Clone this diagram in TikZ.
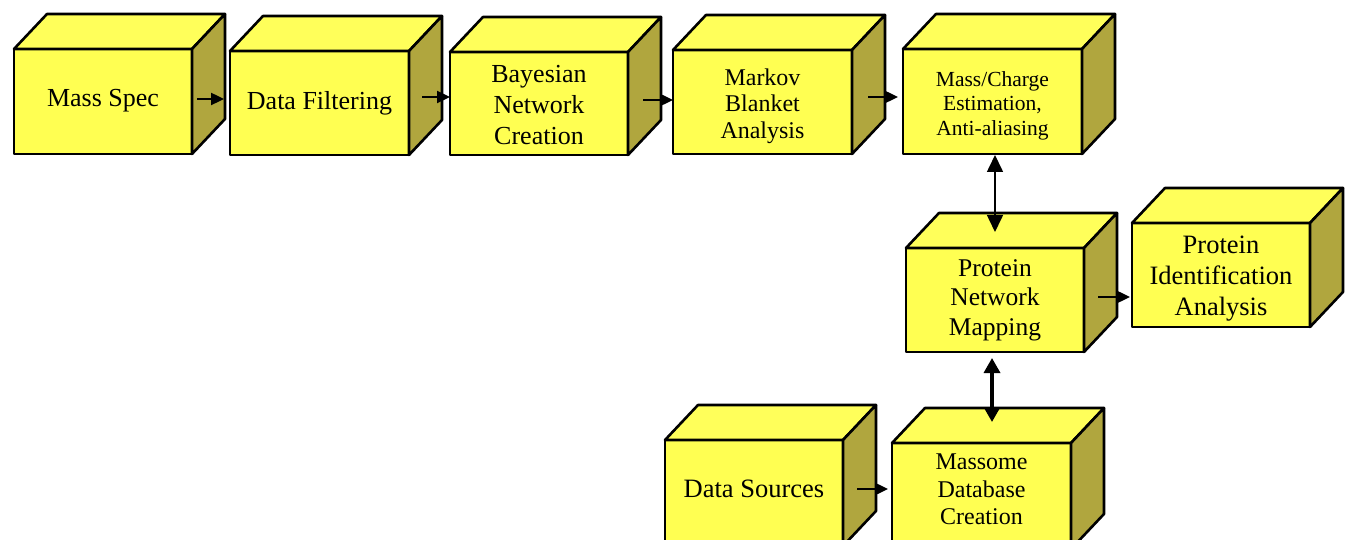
\documentclass[tikz,border=0pt]{standalone}
\usepackage{fontspec}
\setmainfont{Liberation Serif}
\usetikzlibrary{calc,arrows.meta}

\definecolor{facefront}{RGB}{255,255,82}
\definecolor{facetop}{RGB}{255,255,90}
\definecolor{faceside}{RGB}{176,166,62}

% block label moved up by #1 while the block still centres its natural size
\newcommand\blocktext[2]{\raisebox{#1}[\height][\depth]{\begin{tabular}{@{}c@{}}#2\end{tabular}}}

\tikzset{
  frontface/.style={draw=black, line width=2.6pt, fill=facefront, inner sep=0pt,
    outer sep=0pt, anchor=north west, align=center, line join=round},
  topface/.style={draw=black, line width=2.6pt, fill=facetop, line join=round},
  sideface/.style={draw=black, line width=2.6pt, fill=faceside, line join=round},
  flow/.style={line width=2.4pt, -{Triangle[length=13pt,width=12pt]}},
  linkthin/.style={line width=1.6pt, {Triangle[length=17pt,width=16pt]}-{Triangle[length=17pt,width=16pt]}},
  linkthick/.style={line width=3.4pt, {Triangle[length=15pt,width=16pt]}-{Triangle[length=15pt,width=16pt]}},
  big/.style={font=\fontsize{26}{30}\selectfont},
}

\begin{document}
\begin{tikzpicture}[x=1pt,y=-1pt]
  \useasboundingbox (0,0) rectangle (1353,540);

  % front faces of the blocks (top-left corner, width, height)
  \node[frontface, big, minimum width=178pt, minimum height=105pt] (ms) at (14,49) {\blocktext{1pt}{Mass Spec}};
  \node[frontface, big, minimum width=179pt, minimum height=104pt] (df) at (230,51) {Data Filtering};
  \node[frontface, font=\fontsize{26}{31}\selectfont, minimum width=178pt, minimum height=103pt] (by) at (450,52) {\blocktext{-3.5pt}{Bayesian\\Network\\Creation}};
  \node[frontface, font=\fontsize{24}{26.5}\selectfont, minimum width=179pt, minimum height=104pt] (mk) at (673,50) {\blocktext{-4.5pt}{Markov\\Blanket\\Analysis}};
  \node[frontface, font=\fontsize{21.5}{24.5}\selectfont, minimum width=179pt, minimum height=105pt] (mc) at (903,49) {\blocktext{-4.5pt}{Mass/Charge\\Estimation,\\Anti-aliasing}};
  \node[frontface, font=\fontsize{25.5}{29.5}\selectfont, minimum width=178pt, minimum height=104pt] (pn) at (906,248) {\blocktext{0pt}{Protein\\Network\\Mapping}};
  \node[frontface, font=\fontsize{26.5}{31}\selectfont, minimum width=178pt, minimum height=104pt] (pi) at (1132,223) {\blocktext{-3.5pt}{Protein\\Identification\\Analysis}};
  \node[frontface, font=\fontsize{26.5}{30}\selectfont, minimum width=178pt, minimum height=106pt] (ds) at (665,440) {\blocktext{2pt}{Data Sources}};
  \node[frontface, font=\fontsize{24}{27.5}\selectfont, minimum width=179pt, minimum height=106pt] (mm) at (892,443) {\blocktext{4.5pt}{Massome\\Database\\Creation}};

  % top and side faces giving each block its depth
  \def\dx{33}\def\dy{35}
  \foreach \n in {ms,df,by,mk,mc,pn,pi,ds,mm} {
    \filldraw[topface] (\n.north west) -- ++(\dx,-\dy)
      -- ($(\n.north east)+(\dx,-\dy)$) -- (\n.north east) -- cycle;
    \filldraw[sideface] (\n.north east) -- ++(\dx,-\dy)
      -- ($(\n.south east)+(\dx,-\dy)$) -- (\n.south east) -- cycle;
  }

  % process flow
  \draw[flow] ($(ms.east)+(5,-2.5)$) -- ($(ms.east -| df.west)+(-6,-2.5)$);
  \draw[flow] ($(df.east)+(13,-6)$) -- ($(df.east -| by.west)+(0,-6)$);
  \draw[flow] ($(by.east)+(15,-3.5)$) -- ($(by.east -| mk.west)+(0,-3.5)$);
  \draw[flow] ($(mk.east)+(16,-5)$) -- ($(mk.east -| mc.west)+(-5,-5)$);
  \draw[flow] ($(pn.east)+(14,-3)$) -- ($(pn.east -| pi.west)+(-2,-3)$);
  \draw[flow] ($(ds.east)+(14,-4)$) -- ($(ds.east -| mm.west)+(-4,-4)$);

  % two-way links to the protein network
  \draw[linkthin] ($(pn.north |- mc.south)+(0,1)$) -- ($(pn.north)+(0,-16)$);
  \draw[linkthick] ($(pn.south)+(-3,6)$) -- ($(pn.south |- mm.north)+(-3,-21)$);
\end{tikzpicture}
\end{document}
